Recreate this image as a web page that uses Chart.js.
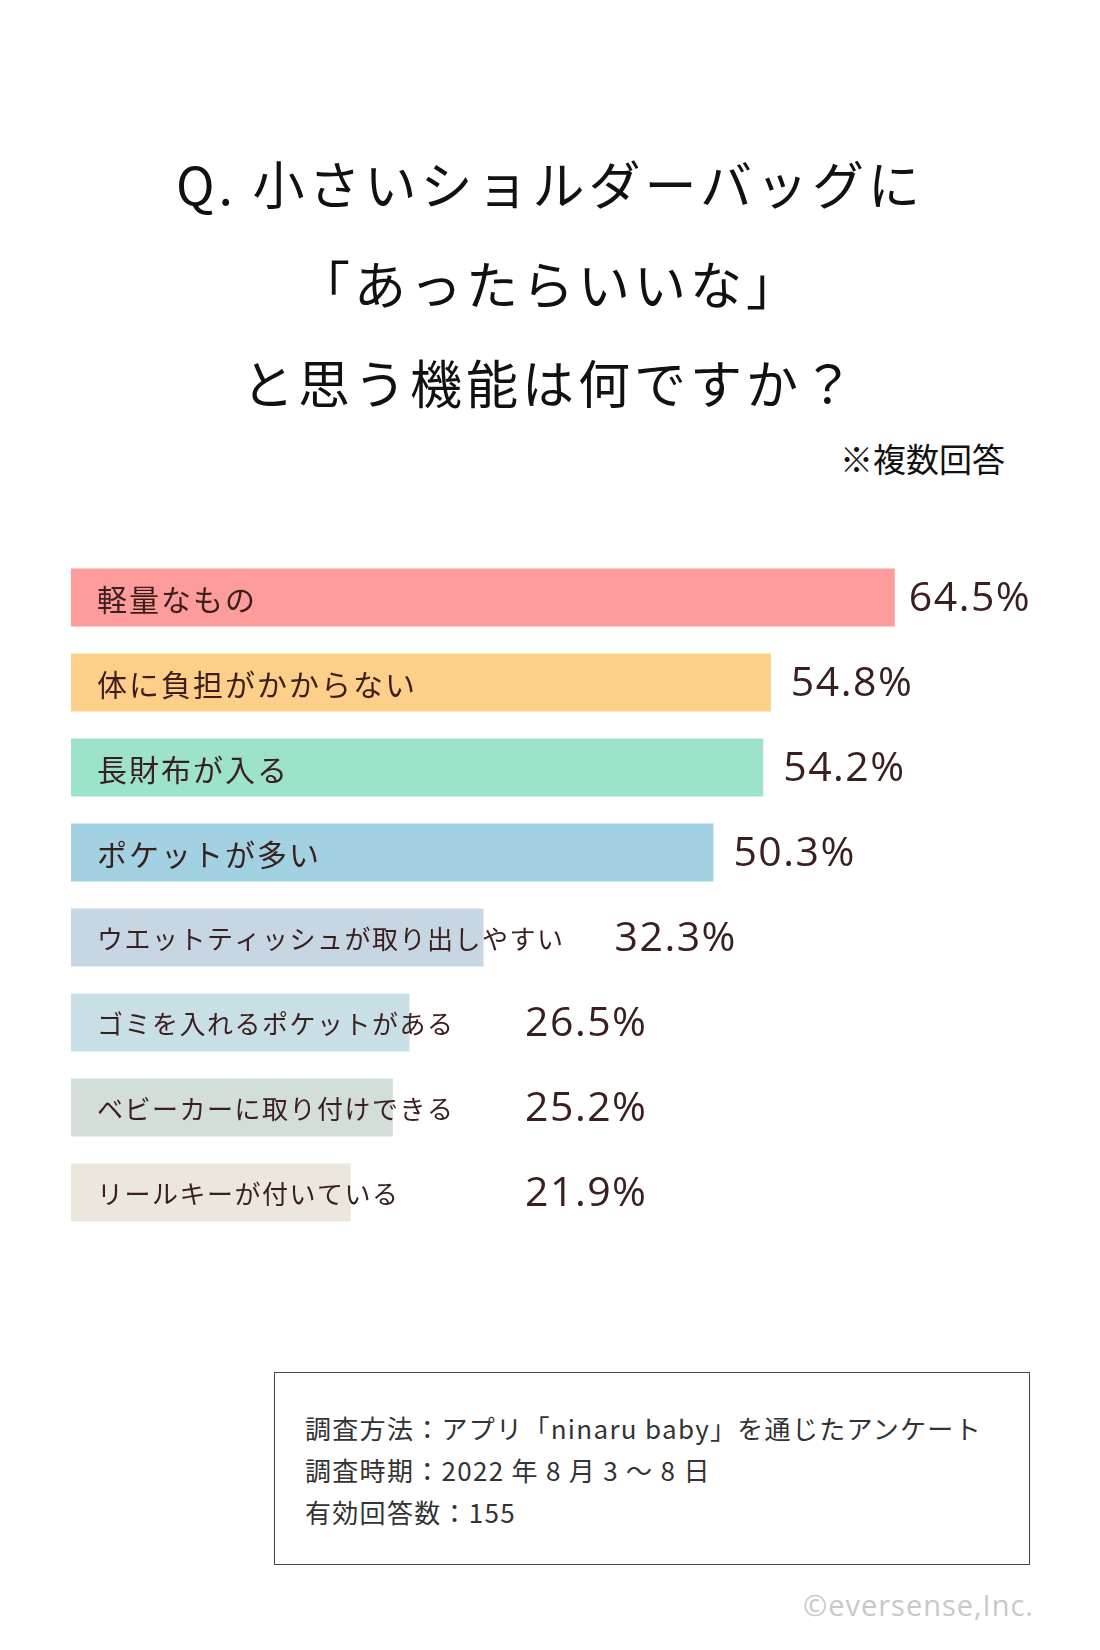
<!DOCTYPE html>
<html><head><meta charset="utf-8">
<script src="https://cdn.jsdelivr.net/npm/chart.js@4.4.0/dist/chart.umd.min.js"></script>
<style>
body{margin:0;background:#fff;font-family:"Noto Sans CJK JP","Noto Sans",sans-serif;color:#111;}
#page{position:relative;width:1100px;height:1650px;overflow:hidden;}
.t{position:absolute;left:0;width:1100px;text-align:center;font-size:52px;line-height:60px;letter-spacing:4px;}
#note{position:absolute;right:95px;top:434px;font-size:33px;}
#box{position:absolute;left:274px;top:1372px;width:756px;height:193px;border:1.5px solid #444;box-sizing:border-box;}
#box div{position:absolute;left:30px;font-size:26px;color:#333;letter-spacing:1.3px;}
#copy{position:absolute;right:66px;top:1585px;font-size:29px;color:#c8c8c8;font-family:"Open Sans",sans-serif;letter-spacing:1px;}
#wrap{position:absolute;left:0;top:555px;width:1100px;height:680px;}
</style></head>
<body><div id="page">
<div class="t" style="top:153px">Q. 小さいショルダーバッグに</div>
<div class="t" style="top:253px">「あったらいいな」</div>
<div class="t" style="top:352px">と思う機能は何ですか？</div>
<div id="note">※複数回答</div>
<div id="wrap"><canvas id="c"></canvas></div>
<div id="box">
<div style="top:36px">調査方法：アプリ「ninaru baby」を通じたアンケート</div>
<div style="top:78px">調査時期：2022 年 8 月 3 〜 8 日</div>
<div style="top:120px">有効回答数：155</div>
</div>
<div id="copy">©eversense,Inc.</div>
</div>
<script>
// data
const labels = ['軽量なもの','体に負担がかからない','長財布が入る','ポケットが多い','ウエットティッシュが取り出しやすい','ゴミを入れるポケットがある','ベビーカーに取り付けできる','リールキーが付いている'];
const values = [64.5, 54.8, 54.2, 50.3, 32.3, 26.5, 25.2, 21.9];
const colors = ['#fe9b9b','#fecf88','#9de3c9','#a2d1e1','#c6d7e3','#c9dfe6','#d3ded8','#ebe7dd'];

const textPlugin = {
  id: 'barText',
  afterDatasetsDraw(chart) {
    const ctx = chart.ctx;
    const meta = chart.getDatasetMeta(0);
    ctx.save();
    ctx.textBaseline = 'middle';
    meta.data.forEach((bar, i) => {
      const big = i < 4;
      ctx.fillStyle = '#3a1f1f';
      ctx.letterSpacing = big ? '2px' : '1.5px';
      ctx.font = (big ? '30px' : '26px') + ' "Noto Sans CJK JP"';
      const lx = bar.base + 26;
      ctx.fillText(labels[i], lx, bar.y + 2);
      const labelEnd = lx + ctx.measureText(labels[i]).width;
      ctx.letterSpacing = '1.5px';
      ctx.font = '41px "Open Sans"';
      const px = big ? bar.x + (i === 0 ? 14 : 20) : Math.max(bar.x + 14, labelEnd + 50, 525);
      ctx.fillText(values[i].toFixed(1) + '%', px, bar.y + 2);
    });
    ctx.restore();
  }
};

new Chart(document.getElementById('c'), {
  type: 'bar',
  data: {
    labels: labels,
    datasets: [{ data: values, backgroundColor: colors, barPercentage: 0.68, categoryPercentage: 1 }]
  },
  options: {
    indexAxis: 'y',
    responsive: true,
    maintainAspectRatio: false,
    animation: false,
    layout: { padding: { left: 71, right: 135, top: 0, bottom: 0 } },
    plugins: { legend: { display: false }, tooltip: { enabled: false } },
    scales: {
      x: { display: false, min: 0, max: 70 },
      y: { display: false }
    }
  },
  plugins: [textPlugin]
});
</script>
</body></html>
